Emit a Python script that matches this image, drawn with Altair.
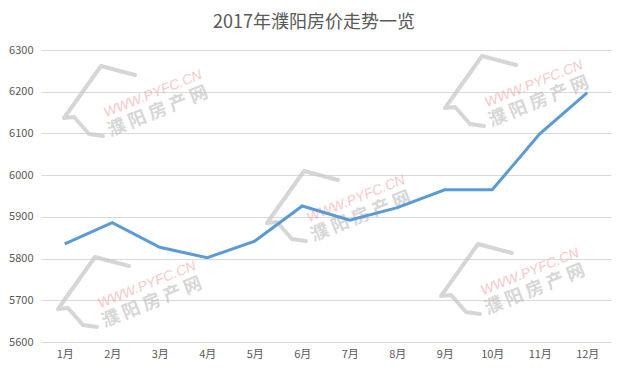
import altair as alt
import pandas as pd

months = ["1月", "2月", "3月", "4月", "5月", "6月", "7月", "8月", "9月", "10月", "11月", "12月"]
prices = [5835, 5886, 5827, 5802, 5842, 5926, 5892, 5922, 5965, 5965, 6099, 6198]
y_ticks = [5600, 5700, 5800, 5900, 6000, 6100, 6200, 6300]

# watermark decoration (page pixel centres of the "WWW.PYFC.CN" text)
wm_cx = [153, 356, 534, 530, 147]
wm_cy = [94, 199, 84, 272, 285]
# house-icon outline offsets relative to each watermark centre
icon_dx = [-18, -52, -89, -79, -64, -50]
icon_dy = [-19, -28, 24, 23, 40, 42]

df = pd.DataFrame({"month": months, "price": prices})
OX, OY = 41, 50  # plot origin on page
wm_df = pd.DataFrame({"x": [x - OX for x in wm_cx], "y": [y - OY for y in wm_cy], "t": ["WWW.PYFC.CN"] * 5})
wm2_df = pd.DataFrame({"x": [x - OX + 5 for x in wm_cx], "y": [y - OY + 18 for y in wm_cy],
                       "t": ["濮 阳 房 产 网"] * 5})
icon_rows = []
for i, (cx, cy) in enumerate(zip(wm_cx, wm_cy)):
    for j, (dx, dy) in enumerate(zip(icon_dx, icon_dy)):
        icon_rows.append({"g": i, "o": j, "x": cx + dx - OX, "y": cy + dy - OY})
icon_df = pd.DataFrame(icon_rows)

font = "Noto Sans CJK SC"
grey = "#595959"

base = alt.Chart(df).encode(
    x=alt.X("month:N", sort=months, title=None,
            scale=alt.Scale(type="point", padding=0.5),
            axis=alt.Axis(labelAngle=0, domain=False, ticks=False, grid=False,
                          labelFont=font, labelFontSize=11, labelColor=grey, labelPadding=6)),
    y=alt.Y("price:Q", title=None,
            scale=alt.Scale(domain=[5600, 6300], nice=False, zero=False),
            axis=alt.Axis(values=y_ticks, format="d", domain=False, ticks=False, gridColor="#d9d9d9",
                          labelFont=font, labelFontSize=11, labelColor=grey, labelPadding=8)),
)

line = base.mark_line(color="#5B9BD5", strokeWidth=3)

icons = alt.Chart(icon_df).mark_line(color="#c4c4c4", strokeWidth=4, opacity=0.7,
                                     strokeJoin="round", strokeCap="round").encode(
    x=alt.X("x:Q", scale=None), y=alt.Y("y:Q", scale=None),
    detail="g:N", order="o:Q")
wm1 = alt.Chart(wm_df).mark_text(angle=338, font="Liberation Sans", fontSize=14, fontStyle="italic",
                                 color="#f2a5a5", opacity=0.6).encode(
    x=alt.X("x:Q", scale=None), y=alt.Y("y:Q", scale=None), text="t:N")
wm2 = alt.Chart(wm2_df).mark_text(angle=338, font=font, fontSize=18, fontWeight="bold",
                                  color="#bdbdbd", opacity=0.6).encode(
    x=alt.X("x:Q", scale=None), y=alt.Y("y:Q", scale=None), text="t:N")

chart = alt.layer(icons, wm1, wm2, line).properties(
    width=570, height=292,
    title=alt.TitleParams("2017年濮阳房价走势一览", font=font, fontSize=18, fontWeight="normal",
                          color=grey, anchor="middle", dx=-12, offset=12),
    autosize=alt.AutoSizeParams(type="none"),
    padding={"left": 33, "top": 42, "right": 6, "bottom": 25},
).configure_view(stroke=None)

chart.save("out.html", embed_options={"renderer": "svg", "actions": False})
